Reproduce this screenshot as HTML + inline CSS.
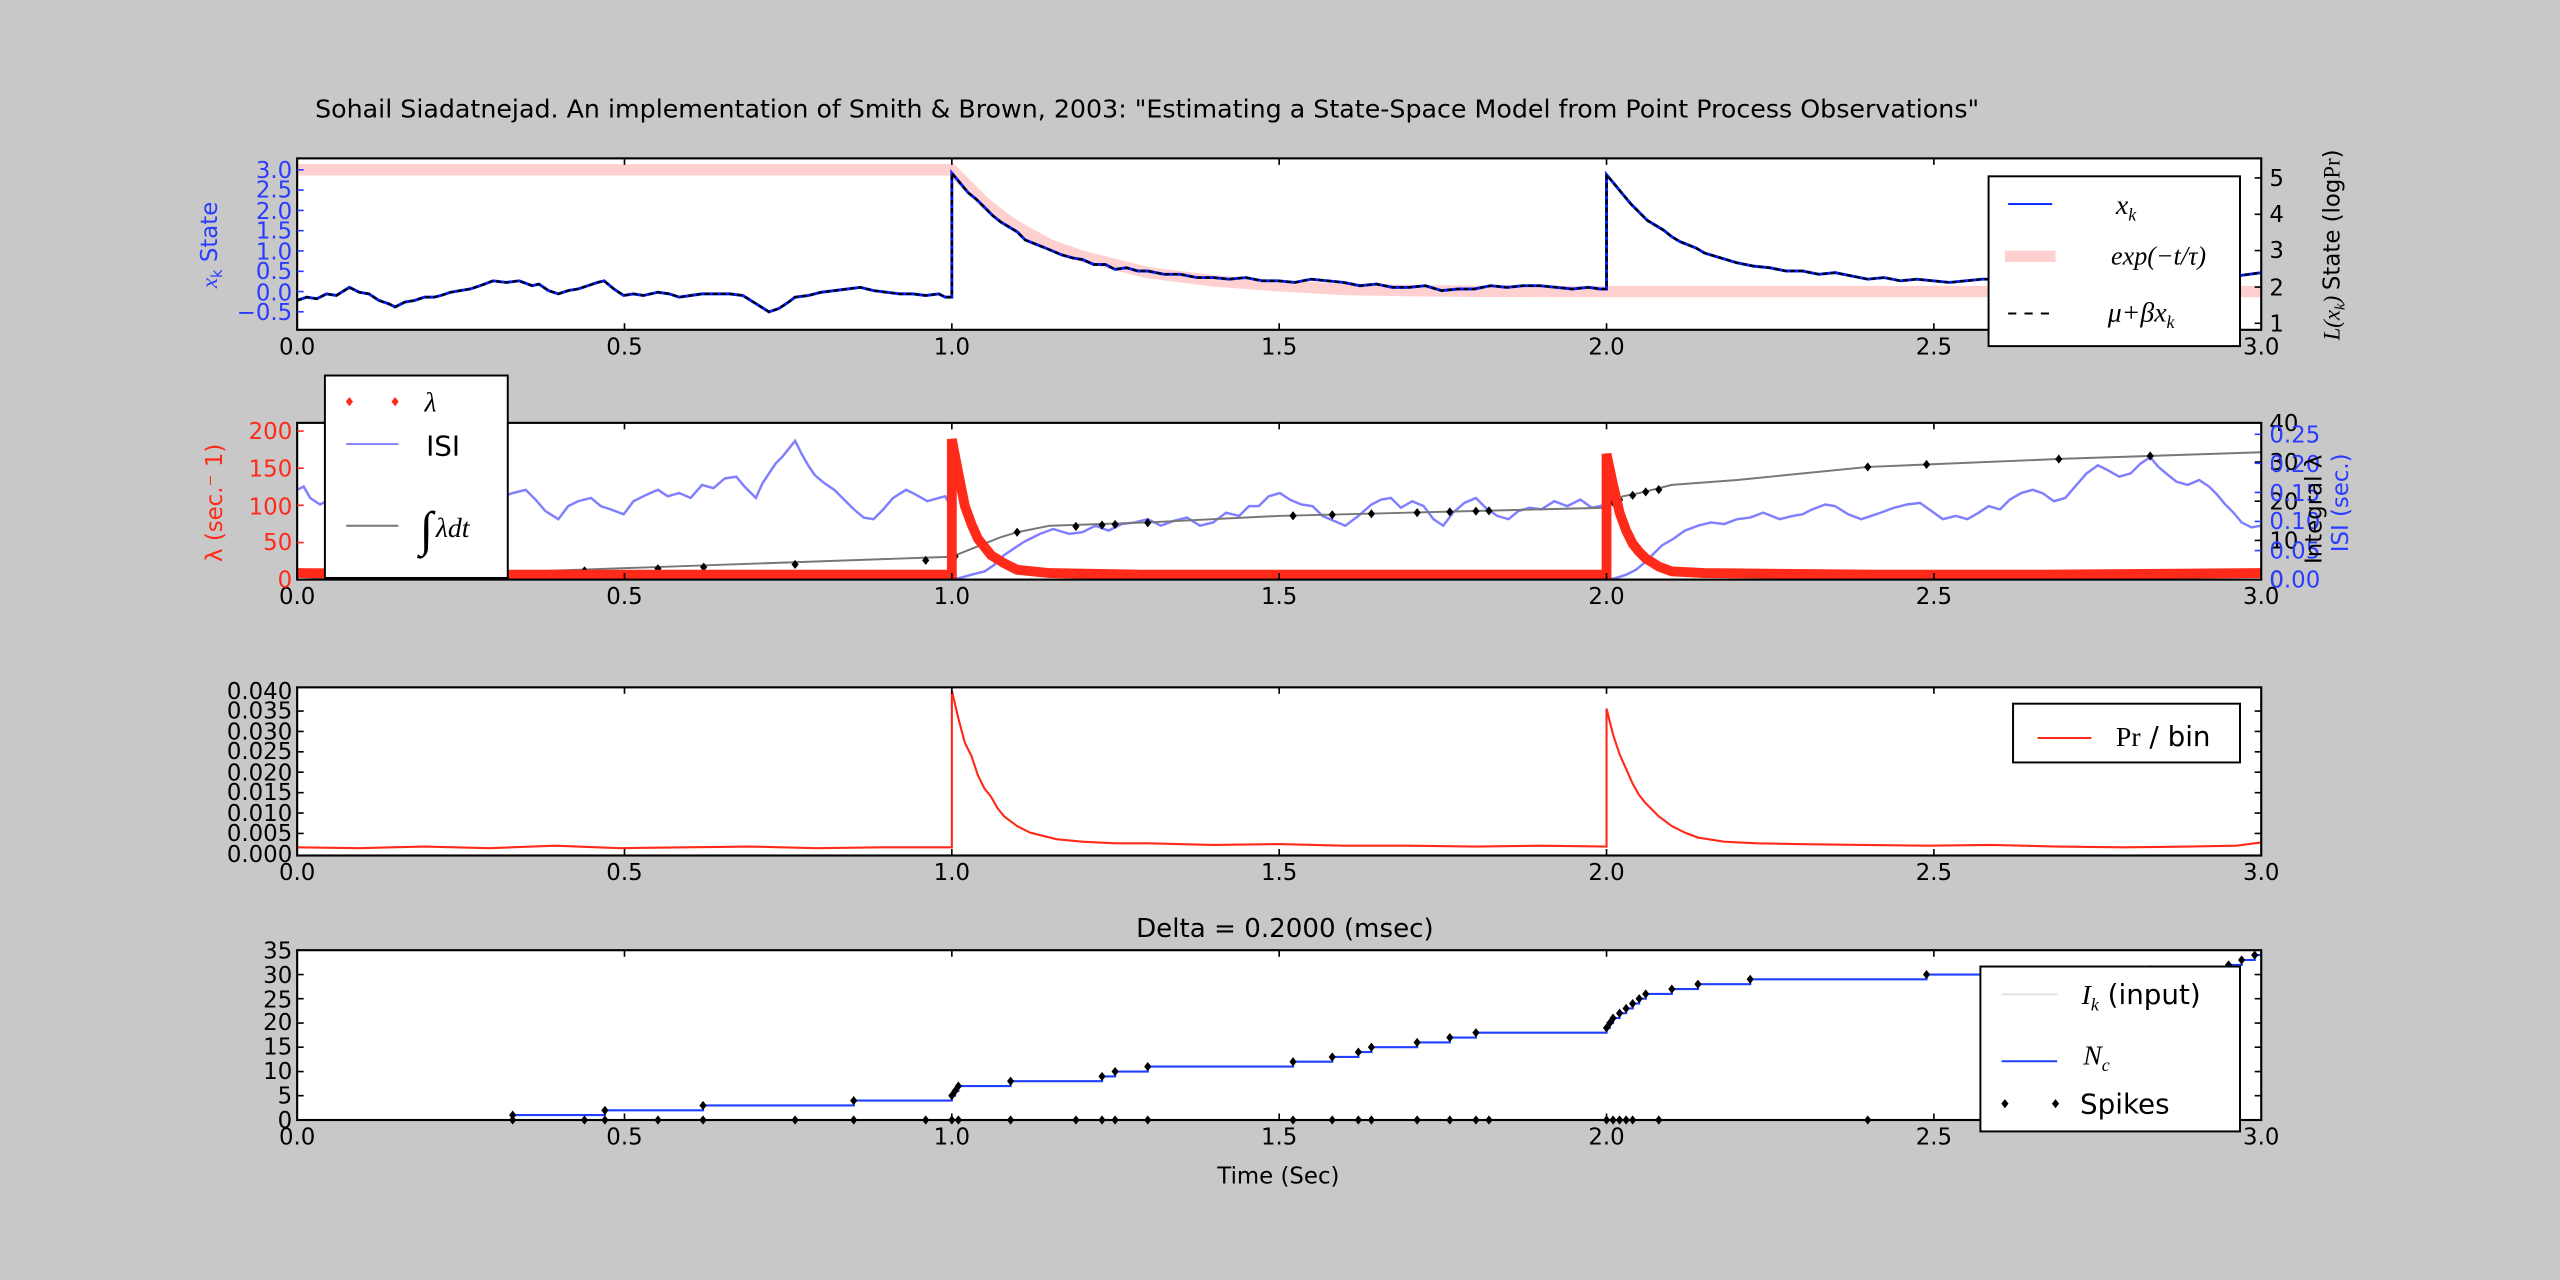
<!DOCTYPE html>
<html><head><meta charset="utf-8"><style>
html,body{margin:0;padding:0;background:#c8c8c8;}
svg{display:block}
text{font-family:"DejaVu Sans","Liberation Sans",sans-serif;}
.m{font-family:"Liberation Serif",serif;font-style:italic}
.tk text{font-size:14px}
</style></head><body>
<svg width="2560" height="1280" viewBox="0 0 1568 784" preserveAspectRatio="none" xmlns="http://www.w3.org/2000/svg">
<defs><path id="dm" d="M-2.2,0L0,-2.8L2.2,0L0,2.8Z"/>
<path id="st" d="M182,184L188,182L194,183L200,180L206,181L214,176L220,179L226,180L232,184L238,186L242,188L248,185L254,184L260,182L266,182L270,181L276,179L282,178L288,177L294,175L302,172L310,173L318,172L326,175L330,174L336,178L342,180L348,178L354,177L360,175L366,173L370,172L376,177L382,181L388,180L394,181L403,179L410,180L416,182L423,181L430,180L437,180L447,180L455,181L463,186L471,191L477,189L483,185L487,182L495,181L503,179L511,178L519,177L527,176L535,178L543,179L551,180L559,180L567,181L575,180L579,182L583,182L583,106L588,112L593,118L598,122L603,127L608,132L613,136L618,139L623,142L628,147L633,149L638,151L643,153L650,156L657,158L663,159L670,162L677,162L683,165L690,164L697,166L703,166L713,168L723,168L733,170L743,170L753,171L763,170L773,172L783,172L793,173L803,171L813,172L823,173L833,175L843,174L853,176L863,176L873,175L883,178L893,177L903,177L913,175L923,176L933,175L943,175L953,176L963,177L973,176L980,177L984,177L984,107L989,113L994,119L999,125L1004,130L1009,135L1014,138L1019,141L1024,145L1029,148L1034,150L1039,152L1044,155L1054,158L1064,161L1074,163L1084,164L1094,166L1104,166L1114,168L1124,167L1134,169L1144,171L1154,170L1164,172L1174,171L1184,172L1194,173L1204,172L1214,171L1234,171L1254,170L1274,172L1294,171L1314,172L1334,171L1354,172L1370,169L1385,167"/>
</defs>
<rect width="1568" height="784" fill="#c8c8c8"/>
<text x="193" y="72" style="font-size:15.5px">Sohail Siadatnejad. An implementation of Smith &amp; Brown, 2003: "Estimating a State-Space Model from Point Process Observations"</text>
<rect x="182" y="97" width="1203" height="105" fill="#fff"/>
<rect x="182" y="259" width="1203" height="96" fill="#fff"/>
<rect x="182" y="421" width="1203" height="103" fill="#fff"/>
<rect x="182" y="582" width="1203" height="104" fill="#fff"/>

<!-- Panel 1 -->
<path fill="none" stroke="#ffd0d0" stroke-width="7" d="M182,104L583,104L593,114L603,124L613,132L623,139L643,150L663,157L683,162L703,167L743,172L783,175L823,177.3L863,178L903,178.4L984,178.6L1385,178.6"/>
<use href="#st" fill="none" stroke="#0020ff" stroke-width="1.8"/>
<use href="#st" fill="none" stroke="#000" stroke-width="1.4" stroke-dasharray="3,2"/>

<!-- Panel 2 -->
<path fill="none" stroke="#7f7fff" stroke-width="1.5" d="M182,300L186,298L190,305L196,309L202,306L208,314L214,312L222,318L230,314L238,322L246,317L254,321L262,320L268,312L274,314L282,306L288,309L294,306L302,312L308,304L314,302L322,300L328,306L334,313L342,318L348,310L354,307L362,305L368,310L374,312L382,315L388,307L396,303L403,300L409,304L416,302L423,305L430,297L437,299L444,293L451,292L456,298L463,305L467,296L471,290L475,284L479,280L483,275L487,270L491,278L495,285L499,291L505,296L511,300L517,306L523,312L529,317L535,318L541,312L547,305L555,300L561,303L568,307L575,305L579,304L581,308L583,355L588,354L595,352L603,350L609,346L615,340L621,336L627,332L631,330L637,327L645,324L655,327L663,326L671,322L679,325L687,321L695,320L703,318L711,322L719,319L727,317L735,322L743,320L751,314L759,316L765,310L771,310L777,304L784,302L790,306L797,309L804,310L810,316L817,319L824,322L832,316L840,309L846,306L852,305L858,311L865,307L872,310L878,318L884,322L890,314L897,308L904,305L910,311L917,316L924,318L930,313L937,311L944,312L952,307L960,310L968,306L975,311L980,310L983,309L984,355L990,354L996,352L1002,349L1008,344L1012,340L1018,334L1025,330L1032,325L1040,322L1048,320L1056,321L1064,318L1072,317L1080,314L1090,318L1098,316L1104,315L1110,312L1118,309L1124,310L1132,315L1140,318L1146,316L1152,314L1160,311L1168,309L1176,308L1183,313L1190,318L1198,316L1205,318L1212,314L1218,310L1225,312L1231,306L1238,302L1245,300L1251,302L1258,307L1265,305L1271,298L1278,290L1285,285L1291,288L1298,292L1305,290L1311,284L1317,280L1322,286L1328,291L1333,295L1340,297L1347,294L1353,298L1358,303L1363,309L1368,314L1373,320L1379,323L1385,322"/>
<path fill="none" stroke="#777" stroke-width="1.2" d="M182,355L583,341L593,337L603,333L613,329L623,326L643,322L703,320L783,316L903,313L983,311L984,309L994,304L1004,302L1024,297L1064,294L1144,286L1264,281L1385,277"/>
<g fill="#000">
<use href="#dm" x="358" y="349.6"/><use href="#dm" x="403" y="348.3"/><use href="#dm" x="431" y="347.4"/><use href="#dm" x="487" y="345.7"/><use href="#dm" x="567" y="343.2"/><use href="#dm" x="585" y="340.8"/><use href="#dm" x="623" y="326"/><use href="#dm" x="659" y="322.4"/><use href="#dm" x="675" y="321.6"/><use href="#dm" x="683" y="321.2"/><use href="#dm" x="703" y="320.2"/><use href="#dm" x="792" y="315.9"/><use href="#dm" x="816" y="315.3"/><use href="#dm" x="840" y="314.7"/><use href="#dm" x="868" y="314"/><use href="#dm" x="888" y="313.5"/><use href="#dm" x="904" y="313.1"/><use href="#dm" x="912" y="312.9"/><use href="#dm" x="984" y="309"/><use href="#dm" x="988" y="307.6"/><use href="#dm" x="992" y="306.2"/><use href="#dm" x="1000" y="303.4"/><use href="#dm" x="1008" y="301.3"/><use href="#dm" x="1016" y="299.9"/><use href="#dm" x="1144" y="286"/><use href="#dm" x="1180" y="284.5"/><use href="#dm" x="1261" y="281.2"/><use href="#dm" x="1317" y="279.3"/>
</g>
<path fill="none" stroke="#ff2a1a" stroke-width="6" d="M182,351L300,352L400,352L500,352L583,352L583,269L587,290L591,310L595,321L599,330L603,335L607,340L615,345L623,349L643,351L700,352L800,352L900,352L984,352L984,278L988,297L992,314L996,325L1000,333L1004,338L1008,342L1016,347L1024,350L1044,351L1150,352L1250,352L1385,351"/>

<!-- Panel 3 -->
<path fill="none" stroke="#ff2a1a" stroke-width="1.3" d="M182,519L220,519.5L260,518.5L300,519.5L340,518L380,519.5L420,519L460,518.5L500,519.5L540,519L583,519L583,423L587,440L591,455L595,463L599,475L603,483L607,488L611,495L615,500L623,506L631,510L639,512L647,514L663,515.5L683,516.5L703,516.5L743,517.5L783,517L823,518L863,518L903,518.5L943,518L984,518.5L984,434L988,450L992,462L996,471L1000,480L1004,487L1008,492L1016,500L1024,506L1032,510L1040,513L1056,515.5L1076,516.5L1100,517L1140,517.5L1180,518L1220,517.5L1260,518.5L1300,519L1340,518.5L1370,518L1385,516"/>

<!-- Panel 4 -->
<path fill="none" stroke="#2040ff" stroke-width="1.3" d="M182,686H314V683H370.5V680.1H430.6V677.1H522.9V674.1H583V671.1H585V668.2H587V665.2H619V662.2H675V659.3H683V656.3H703V653.3H792V650.3H816V647.4H832V644.4H840V641.4H868V638.5H888V635.5H904V632.5H984V629.6H986V626.6H988V623.6H992V620.6H996V617.7H1000V614.7H1004V611.7H1008V608.8H1024V605.8H1040V602.8H1072V599.8H1180V596.9H1317V593.9H1365V591H1373V588H1381V585H1385"/>
<g fill="#000">
<use href="#dm" x="314" y="683"/><use href="#dm" x="370.5" y="680.1"/><use href="#dm" x="430.6" y="677.1"/><use href="#dm" x="522.9" y="674.1"/><use href="#dm" x="583" y="671.1"/><use href="#dm" x="585" y="668.2"/><use href="#dm" x="587" y="665.2"/><use href="#dm" x="619" y="662.2"/><use href="#dm" x="675" y="659.3"/><use href="#dm" x="683" y="656.3"/><use href="#dm" x="703" y="653.3"/><use href="#dm" x="792" y="650.3"/><use href="#dm" x="816" y="647.4"/><use href="#dm" x="832" y="644.4"/><use href="#dm" x="840" y="641.4"/><use href="#dm" x="868" y="638.5"/><use href="#dm" x="888" y="635.5"/><use href="#dm" x="904" y="632.5"/><use href="#dm" x="984" y="629.6"/><use href="#dm" x="986" y="626.6"/><use href="#dm" x="988" y="623.6"/><use href="#dm" x="992" y="620.6"/><use href="#dm" x="996" y="617.7"/><use href="#dm" x="1000" y="614.7"/><use href="#dm" x="1004" y="611.7"/><use href="#dm" x="1008" y="608.8"/><use href="#dm" x="1024" y="605.8"/><use href="#dm" x="1040" y="602.8"/><use href="#dm" x="1072" y="599.8"/><use href="#dm" x="1180" y="596.9"/><use href="#dm" x="1317" y="593.9"/><use href="#dm" x="1365" y="591"/><use href="#dm" x="1373" y="588"/><use href="#dm" x="1381" y="585"/>
<use href="#dm" x="314" y="686"/><use href="#dm" x="358" y="686"/><use href="#dm" x="370.5" y="686"/><use href="#dm" x="403" y="686"/><use href="#dm" x="430.6" y="686"/><use href="#dm" x="487" y="686"/><use href="#dm" x="522.9" y="686"/><use href="#dm" x="567" y="686"/><use href="#dm" x="583" y="686"/><use href="#dm" x="587" y="686"/><use href="#dm" x="619" y="686"/><use href="#dm" x="659" y="686"/><use href="#dm" x="675" y="686"/><use href="#dm" x="683" y="686"/><use href="#dm" x="703" y="686"/><use href="#dm" x="792" y="686"/><use href="#dm" x="816" y="686"/><use href="#dm" x="832" y="686"/><use href="#dm" x="840" y="686"/><use href="#dm" x="868" y="686"/><use href="#dm" x="888" y="686"/><use href="#dm" x="904" y="686"/><use href="#dm" x="912" y="686"/><use href="#dm" x="984" y="686"/><use href="#dm" x="988" y="686"/><use href="#dm" x="992" y="686"/><use href="#dm" x="996" y="686"/><use href="#dm" x="1000" y="686"/><use href="#dm" x="1016" y="686"/><use href="#dm" x="1144" y="686"/>
</g>

<!-- frames -->
<g fill="none" stroke="#000" stroke-width="1.3">
<rect x="182" y="97" width="1203" height="105"/>
<rect x="182" y="259" width="1203" height="96"/>
<rect x="182" y="421" width="1203" height="103"/>
<rect x="182" y="582" width="1203" height="104"/>
</g>
<!-- ticks -->
<g stroke="#000" stroke-width="1" fill="none">
<path d="M382.5,97v4M583,97v4M783.5,97v4M984,97v4M1184.5,97v4M382.5,202v-4M583,202v-4M783.5,202v-4M984,202v-4M1184.5,202v-4
M382.5,259v4M583,259v4M783.5,259v4M984,259v4M1184.5,259v4M382.5,355v-4M583,355v-4M783.5,355v-4M984,355v-4M1184.5,355v-4
M382.5,421v4M583,421v4M783.5,421v4M984,421v4M1184.5,421v4M382.5,524v-4M583,524v-4M783.5,524v-4M984,524v-4M1184.5,524v-4
M382.5,582v4M583,582v4M783.5,582v4M984,582v4M1184.5,582v4M382.5,686v-4M583,686v-4M783.5,686v-4M984,686v-4M1184.5,686v-4"/>
<path stroke="#2a3cff" d="M182,104h4M182,116.4h4M182,128.9h4M182,141.3h4M182,153.7h4M182,166.2h4M182,178.6h4M182,191h4"/>
<path d="M1385,109h-4M1385,131.3h-4M1385,153.5h-4M1385,175.8h-4M1385,198h-4"/>
<path stroke="#ff2a1a" d="M182,264h4M182,286.8h4M182,309.5h4M182,332.3h4"/>
<path d="M1385,259h-4M1385,283h-4M1385,307h-4M1385,331h-4"/>
<path stroke="#2a3cff" d="M1385,266h-4M1385,283.8h-4M1385,301.6h-4M1385,319.4h-4M1385,337.2h-4"/>
<path d="M182,435.5h4M182,448h4M182,460.5h4M182,473h4M182,485.5h4M182,498h4M182,510.5h4M1385,435.5h-4M1385,448h-4M1385,460.5h-4M1385,473h-4M1385,485.5h-4M1385,498h-4M1385,510.5h-4"/>
<path d="M182,596.9h4M182,611.7h4M182,626.6h4M182,641.4h4M182,656.3h4M182,671.1h4M1385,596.9h-4M1385,611.7h-4M1385,626.6h-4M1385,641.4h-4M1385,656.3h-4M1385,671.1h-4"/>
</g>
<g class="tk" text-anchor="middle">
<text x="182" y="217">0.0</text><text x="382.5" y="217">0.5</text><text x="583" y="217">1.0</text><text x="783.5" y="217">1.5</text><text x="984" y="217">2.0</text><text x="1184.5" y="217">2.5</text><text x="1385" y="217">3.0</text>
<text x="182" y="370">0.0</text><text x="382.5" y="370">0.5</text><text x="583" y="370">1.0</text><text x="783.5" y="370">1.5</text><text x="984" y="370">2.0</text><text x="1184.5" y="370">2.5</text><text x="1385" y="370">3.0</text>
<text x="182" y="539">0.0</text><text x="382.5" y="539">0.5</text><text x="583" y="539">1.0</text><text x="783.5" y="539">1.5</text><text x="984" y="539">2.0</text><text x="1184.5" y="539">2.5</text><text x="1385" y="539">3.0</text>
<text x="182" y="701">0.0</text><text x="382.5" y="701">0.5</text><text x="583" y="701">1.0</text><text x="783.5" y="701">1.5</text><text x="984" y="701">2.0</text><text x="1184.5" y="701">2.5</text><text x="1385" y="701">3.0</text>
</g>
<g class="tk" text-anchor="end" fill="#2a3cff">
<text x="179" y="109">3.0</text><text x="179" y="121">2.5</text><text x="179" y="134">2.0</text><text x="179" y="146">1.5</text><text x="179" y="159">1.0</text><text x="179" y="171">0.5</text><text x="179" y="184">0.0</text><text x="179" y="196">−0.5</text>
</g>
<g class="tk" text-anchor="start">
<text x="1390" y="114">5</text><text x="1390" y="136">4</text><text x="1390" y="158">3</text><text x="1390" y="181">2</text><text x="1390" y="203">1</text>
</g>
<g class="tk" text-anchor="end" fill="#ff2a1a">
<text x="179" y="269">200</text><text x="179" y="292">150</text><text x="179" y="315">100</text><text x="179" y="337">50</text><text x="179" y="360">0</text>
</g>
<g class="tk" text-anchor="start">
<text x="1390" y="264">40</text><text x="1390" y="288">30</text><text x="1390" y="312">20</text><text x="1390" y="336">10</text><text x="1390" y="360">0</text>
</g>
<g class="tk" text-anchor="start" fill="#2a3cff">
<text x="1390" y="271">0.25</text><text x="1390" y="289">0.20</text><text x="1390" y="307">0.15</text><text x="1390" y="324">0.10</text><text x="1390" y="342">0.05</text><text x="1390" y="360">0.00</text>
</g>
<g class="tk" text-anchor="end">
<text x="179" y="428">0.040</text><text x="179" y="440">0.035</text><text x="179" y="453">0.030</text><text x="179" y="465">0.025</text><text x="179" y="478">0.020</text><text x="179" y="490">0.015</text><text x="179" y="503">0.010</text><text x="179" y="515">0.005</text><text x="179" y="528">0.000</text>
<text x="179" y="587">35</text><text x="179" y="602">30</text><text x="179" y="617">25</text><text x="179" y="631">20</text><text x="179" y="646">15</text><text x="179" y="661">10</text><text x="179" y="676">5</text><text x="179" y="691">0</text>
</g>
<!-- axis labels -->
<text transform="translate(133,150) rotate(-90)" text-anchor="middle" style="font-size:14px;fill:#2a3cff"><tspan class="m">x</tspan><tspan font-size="9" dy="3">k</tspan><tspan dy="-3">  State</tspan></text>
<text transform="translate(1433,150) rotate(-90)" text-anchor="middle" style="font-size:14px"><tspan class="m">L(x</tspan><tspan class="m" font-size="9" dy="3">k</tspan><tspan dy="-3" class="m">) </tspan>State (log<tspan font-family="Liberation Serif">Pr</tspan>)</text>
<text transform="translate(136,308) rotate(-90)" text-anchor="middle" style="font-size:14px;fill:#ff2a1a">λ (sec.⁻ 1)</text>
<text transform="translate(1422,312) rotate(-90)" text-anchor="middle" style="font-size:14px">Integral λ</text>
<text transform="translate(1438,308) rotate(-90)" text-anchor="middle" style="font-size:14px;fill:#2a3cff">ISI (sec.)</text>
<text x="787" y="574" text-anchor="middle" style="font-size:16px">Delta = 0.2000 (msec)</text>
<text x="783" y="725" text-anchor="middle" style="font-size:14px">Time (Sec)</text>
<!-- legends -->
<rect x="1218" y="108" width="154" height="104" fill="#fff" stroke="#000" stroke-width="1.2"/>
<line x1="1230" y1="125" x2="1257" y2="125" stroke="#0020ff" stroke-width="1.2"/>
<text x="1296" y="131" class="m" style="font-size:17px">x<tspan font-size="11" dy="4">k</tspan></text>
<line x1="1228" y1="157" x2="1259" y2="157" stroke="#ffd0d0" stroke-width="7"/>
<text x="1293" y="162" class="m" style="font-size:16px">exp(−t/τ)</text>
<line x1="1230" y1="192" x2="1257" y2="192" stroke="#000" stroke-width="1.2" stroke-dasharray="5,5"/>
<text x="1291" y="197" class="m" style="font-size:17px">μ+βx<tspan font-size="11" dy="4">k</tspan></text>

<rect x="199" y="230" width="112" height="124" fill="#fff" stroke="#000" stroke-width="1.2"/>
<use href="#dm" x="214" y="246" fill="#ff2a1a"/><use href="#dm" x="242" y="246" fill="#ff2a1a"/>
<text x="260" y="252" class="m" style="font-size:17px">λ</text>
<line x1="212" y1="272" x2="244" y2="272" stroke="#7f7fff" stroke-width="1.2"/>
<text x="261" y="279" style="font-size:17px">ISI</text>
<line x1="212" y1="322" x2="244" y2="322" stroke="#777" stroke-width="1.2"/>
<text x="257" y="334" class="m" style="font-size:30px">∫</text>
<text x="267" y="329" class="m" style="font-size:17px">λdt</text>

<rect x="1233" y="431" width="139" height="36" fill="#fff" stroke="#000" stroke-width="1.2"/>
<line x1="1248" y1="452" x2="1281" y2="452" stroke="#ff2a1a" stroke-width="1.2"/>
<text x="1296" y="457" style="font-size:17px"><tspan font-family="Liberation Serif">Pr</tspan> / bin</text>

<rect x="1213" y="592" width="159" height="101" fill="#fff" stroke="#000" stroke-width="1.2"/>
<line x1="1226" y1="609" x2="1260" y2="609" stroke="#ddd" stroke-width="1"/>
<text x="1275" y="615" style="font-size:17px"><tspan class="m">I</tspan><tspan class="m" font-size="11" dy="4">k</tspan><tspan dy="-4"> (input)</tspan></text>
<line x1="1226" y1="650" x2="1260" y2="650" stroke="#2040ff" stroke-width="1.2"/>
<text x="1276" y="652" class="m" style="font-size:17px">N<tspan font-size="11" dy="4">c</tspan></text>
<use href="#dm" x="1228" y="676"/><use href="#dm" x="1259" y="676"/>
<text x="1274" y="682" style="font-size:17px">Spikes</text>
</svg>
</body></html>
